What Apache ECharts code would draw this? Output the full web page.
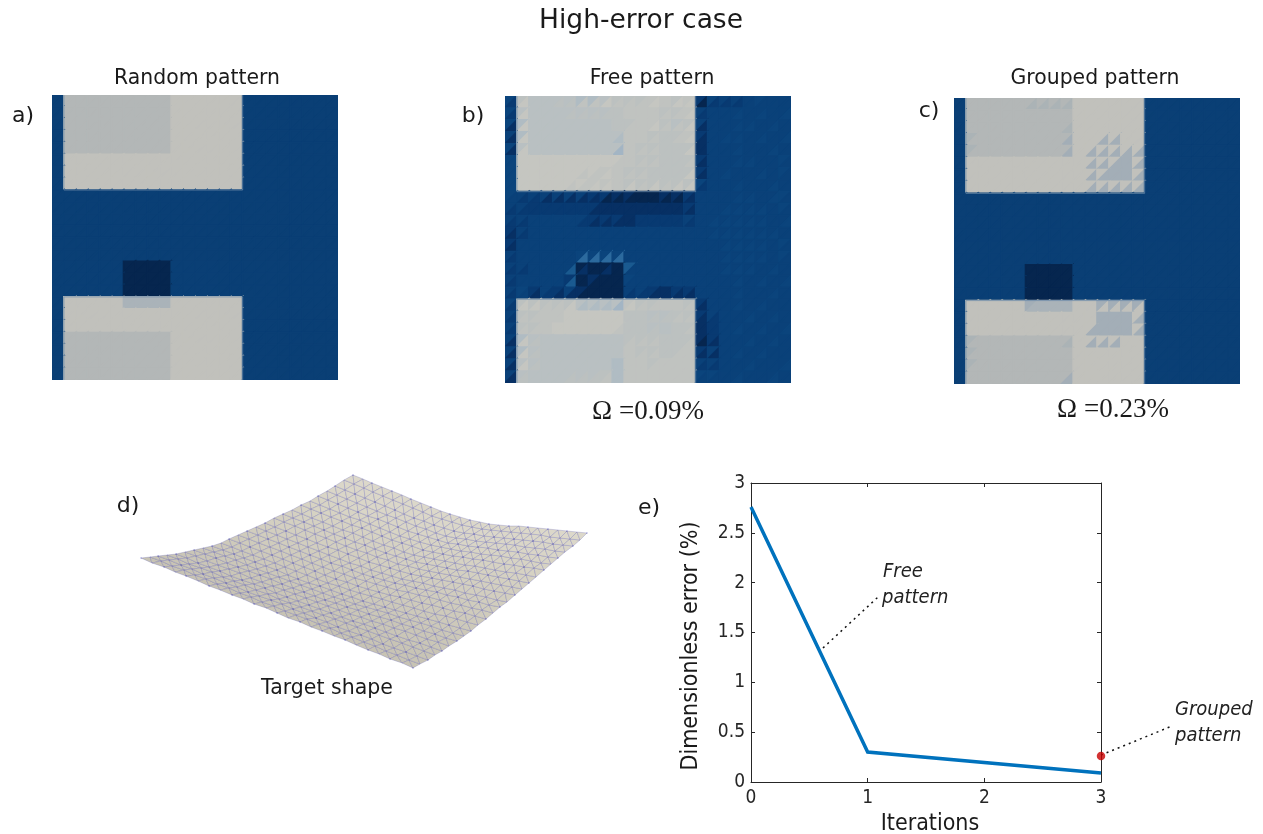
<!DOCTYPE html>
<html><head><meta charset="utf-8">
<style>html,body{margin:0;padding:0;background:#fff}#c{width:1263px;height:834px}</style>
<script src="https://cdn.jsdelivr.net/npm/echarts@6/dist/echarts.min.js"></script>
</head><body><div id="c"></div>
<script>
// Panel e: line values
const iterations = [0, 1, 3];
const errors = [2.76, 0.30, 0.09];
const groupedPoint = [3, 0.26];
const freeLeader = [[0.617, 1.345], [1.089, 1.856]];
const groupedLeader = [[3, 0.27], [3.609, 0.562]];
const xTicks = ['0', '1', '2', '3'];

// Panels a-c: colour code per mesh cell (24 x 24); two characters = upper-left, lower-right triangle
const panelARows = [
 'nqqqqqqqqqppppppnnnnnnnn','nqqqqqqqqqppppppnnnnnnnn','nqqqqqqqqqppppppnnnnnnnn','nqqqqqqqqqppppppnnnnnnnn','nqqqqqqqqqppppppnnnnnnnn',
 'npppppppppppppppnnnnnnnn','npppppppppppppppnnnnnnnn','npppppppppppppppnnnnnnnn',
 'nnnnnnnnnnnnnnnnnnnnnnnn','nnnnnnnnnnnnnnnnnnnnnnnn','nnnnnnnnnnnnnnnnnnnnnnnn','nnnnnnnnnnnnnnnnnnnnnnnn','nnnnnnnnnnnnnnnnnnnnnnnn','nnnnnnnnnnnnnnnnnnnnnnnn',
 'nnnnnnmmmmnnnnnnnnnnnnnn','nnnnnnmmmmnnnnnnnnnnnnnn','nnnnnnmmmmnnnnnnnnnnnnnn',
 'npppppssssppppppnnnnnnnn','npppppppppppppppnnnnnnnn','npppppppppppppppnnnnnnnn',
 'nqqqqqqqqqppppppnnnnnnnn','nqqqqqqqqqppppppnnnnnnnn','nqqqqqqqqqppppppnnnnnnnn','nqqqqqqqqqppppppnnnnnnnn'];
const panelBRows = [
 '42 ca dd dd dc dc eb eb da cb cb cb ba bb ca ba 20 42 32 32 33 43 33 33',
 '42 da dd dd dd dc dc dc dc cc bb bb bb cb cb ba 32 33 33 34 33 34 33 34',
 '41 ea dd dd dd dd dd dd dd cc cb bb ba cb db ca 31 33 33 34 34 33 34 33',
 '31 ea dd dd dd dd dd dd dd de bb bb cb cc cb ba 21 33 34 34 33 34 33 34',
 '41 da dd dd dd dd dd dd dd df bb cb cb cc cc ca 11 33 33 34 33 33 34 33',
 '44 aa aa aa aa aa aa aa aa ab bb cb cb cc cc cb 21 33 33 34 34 33 33 43',
 '44 aa aa aa aa aa ab ab ba bb cb cb cc cc cc ca 21 33 34 33 33 34 33 43',
 '44 aa aa aa aa ab ab ba ba bb ca cb ca cb ca ca 42 33 33 34 33 33 34 33',
 '43 32 32 31 31 31 31 21 20 10 10 00 00 10 10 21 33 33 33 34 34 33 34 43',
 '32 32 22 22 22 22 22 21 11 11 11 11 11 11 11 21 33 33 34 34 34 34 33 43',
 '32 32 33 33 33 33 32 21 21 21 11 22 22 22 22 32 33 34 34 34 34 34 33 34',
 '21 32 33 33 33 33 33 33 33 33 33 33 33 33 33 33 33 34 34 34 34 34 34 33',
 '21 33 33 33 33 33 33 33 33 33 33 33 33 33 33 33 33 33 34 34 34 34 33 43',
 '32 33 33 33 33 33 46 46 46 46 33 33 33 33 33 33 33 33 34 34 34 34 33 43',
 '32 32 33 33 33 35 01 00 01 00 53 33 33 33 33 33 33 33 34 34 34 33 34 33',
 '32 33 33 33 33 25 00 10 00 00 43 33 33 33 33 33 33 33 33 34 33 34 33 34',
 '32 43 21 32 21 31 10 00 00 00 32 32 21 11 21 21 33 33 33 34 33 33 34 33',
 '42 ca ca cb cb ca de de de df ba cb cb bb bb cb 21 33 33 34 33 34 33 33',
 '32 cb cb bb bb aa aa aa aa aa cc cc dc dc cb cb 21 32 33 33 34 33 34 33',
 '32 cb cb bb aa aa aa aa aa ab cc cc dc dd cc cb 11 22 33 34 33 34 33 34',
 '31 ea dc dd dd dd dd dd dd dd cb cb cb cc cc cb 10 21 33 33 34 33 34 33',
 '31 ea dc dd dd dd dd dd dd dd bb cb cb cc cb bb 21 31 33 34 33 34 33 33',
 '31 da dc dd dd dd dd dd dd ee bb bb cb bb bb bb 32 32 33 33 34 33 33 34',
 '31 dc dd dd dd dc dc dc cb ee bb bb bb bb bb bb 43 43 33 34 33 33 34 33'];
const panelCRows = [
 'n q q q q q qt qt qt qt p p p p p p n n n n n n n n',
 'n q q q q q q q q q p p p p p p n n n n n n n n',
 'n q q q q q q q q qt p p p p p p n n n n n n n n',
 'n tq q q q q q q q qr p p pr pr p p n n n n n n n n',
 'n tq q q q q q q q qr p pr pr pr pr pr n n n n n n n n',
 'n p p p p p p p p p p pr pr pr rr pr n n n n n n n n',
 'n p p p p p p p p p p pr pr rr rr pr n n n n n n n n',
 'n p p p p p p p p p p pr pr pr pr pr n n n n n n n n',
 'n n n n n n n n n n n n n n n n n n n n n n n n',
 'n n n n n n n n n n n n n n n n n n n n n n n n',
 'n n n n n n n n n n n n n n n n n n n n n n n n',
 'n n n n n n n n n n n n n n n n n n n n n n n n',
 'n n n n n n n n n n n n n n n n n n n n n n n n',
 'n n n n n n n n n n n n n n n n n n n n n n n n',
 'n n n n n n m m m m n n n n n n n n n n n n n n',
 'n n n n n n m m m m n n n n n n n n n n n n n n',
 'n n n n n n m m m m n n n n n n n n n n n n n n',
 'n p p p p p rs s s s p p rp rp rp rp n n n n n n n n',
 'n p p p p p p p p p p p rr rr rr pr n n n n n n n n',
 'n p p p p p p p p p p pr rr rr rr pr n n n n n n n n',
 'n tq q q q q q q q qt p pr pr pr p p n n n n n n n n',
 'n tq q q q q q q q q p p p p p p n n n n n n n n',
 'n tq q q q q q q q q p p p p p p n n n n n n n n',
 'n q q q q q q q q qr p p p p p p n n n n n n n n'];
// Plate outlines in mesh cells: col0,row0,col1,row1 (running past the panel, which clips them)
const plateRects = [[1, -1, 16, 8], [1, 17, 16, 25]];
const colorCodes = {
 n:'#0a3f75', m:'#06264f', p:'#c1c1bc', q:'#b3b7b7', r:'#a3aeb7', s:'#aab3b9', t:'#abb3b6',
 0:'#06264f', 1:'#073064', 2:'#083a72', 3:'#0a4179', 4:'#0b447c', 5:'#1a5a90', 6:'#2c6a9e',
 a:'#c5c6c1', b:'#c0c3c0', c:'#bcc1c0', d:'#b9c0c2', e:'#b0bcc3', f:'#a3b5c4'
};

// Panel d: surface mesh nodes (25 x 25), picture pixels
const meshX = [
[141,152,164,175,186,198,209,220,232,243,254,266,277,288,300,311,322,334,345,356,368,379,390,402,413],
[150,161,172,184,195,206,217,229,240,251,262,274,285,296,307,319,330,341,352,364,375,386,397,409,420],
[158,169,181,192,203,214,226,237,248,259,271,282,293,304,316,327,338,349,361,372,383,394,406,417,428],
[167,178,189,201,212,223,234,245,256,268,279,290,301,312,323,335,346,357,368,379,390,402,413,424,435],
[176,187,198,209,220,231,242,254,265,276,287,298,309,320,331,342,353,364,375,386,397,409,420,431,442],
[185,196,207,218,229,240,251,262,273,284,295,306,317,328,339,350,361,372,383,394,405,416,427,438,449],
[194,205,216,227,238,249,260,271,282,293,304,315,325,336,347,358,369,380,391,402,413,424,435,446,457],
[203,214,225,236,247,257,268,279,290,301,312,323,334,344,355,366,377,388,399,410,421,431,442,453,464],
[212,223,234,244,255,266,277,288,298,309,320,331,342,352,363,374,385,395,406,417,428,439,449,460,471],
[221,232,242,253,264,275,285,296,307,317,328,339,350,360,371,382,392,403,414,424,435,446,457,467,478],
[229,240,250,261,272,283,293,304,315,325,336,347,358,368,379,390,400,411,422,432,443,454,465,475,486],
[238,249,259,270,281,291,302,312,323,334,344,355,366,376,387,397,408,419,429,440,451,461,472,482,493],
[247,258,268,279,289,300,310,321,331,342,352,363,373,384,395,405,416,426,437,447,458,468,479,489,500],
[256,266,277,287,298,308,319,329,340,350,361,371,382,392,402,413,423,434,444,455,465,476,486,497,507],
[265,275,286,296,307,317,328,338,348,359,369,380,390,400,411,421,432,442,453,463,473,484,494,505,515],
[274,284,295,305,315,326,336,346,357,367,377,388,398,408,419,429,439,450,460,470,481,491,501,512,522],
[283,293,304,314,324,334,345,355,365,375,386,396,406,416,427,437,447,457,468,478,488,498,509,519,529],
[292,302,312,323,333,343,353,363,373,384,394,404,414,424,434,445,455,465,475,485,495,506,516,526,536],
[301,311,321,331,342,352,362,372,382,392,402,412,423,433,443,453,463,473,483,493,504,514,524,534,544],
[310,320,330,340,350,360,370,380,390,400,410,420,431,441,451,461,471,481,491,501,511,521,531,541,551],
[318,328,338,348,358,368,378,388,398,408,418,428,438,448,458,468,478,488,498,508,518,528,538,548,558],
[327,337,347,357,367,377,387,396,406,416,426,436,446,456,466,476,486,496,506,515,525,535,545,555,565],
[335,345,355,365,375,385,395,404,414,424,434,444,454,464,474,484,494,504,514,523,533,543,553,563,573],
[344,354,364,373,383,393,403,413,423,432,442,452,462,472,482,491,501,511,521,531,541,550,560,570,580],
[353,363,372,382,392,402,411,421,431,441,450,460,470,480,489,499,509,519,528,538,548,558,567,577,587]];
const meshY = [
[558,563,567,572,576,581,586,590,595,599,604,608,613,618,622,627,631,636,640,645,650,654,659,663,668],
[557,561,566,570,575,579,584,588,593,597,602,606,611,615,619,624,628,633,637,642,646,651,655,660,664],
[556,560,565,569,574,578,583,587,592,596,600,604,609,613,618,622,627,631,635,639,644,648,652,656,660],
[555,559,564,568,572,577,581,585,590,594,599,603,607,611,615,619,623,627,631,635,639,643,647,651,655],
[554,558,563,567,571,576,580,584,588,593,597,601,605,609,613,617,621,624,628,632,636,640,643,647,651],
[552,556,561,565,569,573,578,582,586,590,594,598,602,606,610,614,617,621,624,628,631,635,639,642,646],
[550,554,558,563,567,571,575,579,584,588,592,596,600,603,607,610,614,617,620,624,627,631,634,638,641],
[548,552,556,560,565,569,573,577,581,585,589,593,597,600,604,607,610,613,617,620,623,626,630,633,636],
[546,550,554,558,562,566,570,575,579,583,586,590,594,597,601,604,607,610,613,616,619,622,625,628,631],
[543,547,551,555,559,563,567,571,575,579,583,586,590,593,596,599,602,605,608,611,614,616,619,622,625],
[539,543,547,551,555,559,563,567,571,575,579,582,586,589,592,595,597,600,603,605,608,611,613,616,619],
[535,539,543,547,551,555,559,563,567,571,574,578,581,584,587,590,592,595,597,600,603,605,608,610,613],
[531,535,539,543,547,551,555,559,563,566,570,574,577,580,583,585,588,590,592,595,597,600,602,605,607],
[527,531,535,539,543,547,551,555,559,563,566,570,573,576,579,581,583,586,588,590,593,595,597,600,602],
[523,527,531,535,539,543,547,550,554,558,562,565,568,571,574,576,578,580,582,584,586,589,591,593,595],
[518,522,526,530,534,538,542,546,550,553,557,560,564,566,569,571,573,575,577,579,581,583,585,587,589],
[514,518,522,526,530,534,538,542,545,549,553,556,559,562,564,566,568,570,571,573,575,577,579,581,583],
[510,514,518,522,526,530,533,537,541,545,548,552,555,557,559,561,563,565,566,568,570,572,573,575,577],
[505,509,513,517,521,525,528,532,536,540,543,546,550,552,554,556,557,559,560,562,564,565,567,568,570],
[501,505,509,513,517,520,524,528,532,536,539,542,545,547,549,551,552,554,555,556,558,559,561,563,564],
[496,500,504,508,512,516,519,523,527,531,534,537,540,543,544,546,547,548,550,551,552,554,555,557,558],
[491,495,499,503,507,511,515,518,522,526,529,533,536,538,539,541,542,543,544,545,547,548,549,551,552],
[486,490,494,498,502,506,510,514,518,521,525,528,531,533,534,536,537,538,539,540,541,542,544,545,546],
[480,484,488,492,496,500,504,508,512,516,519,522,525,527,529,530,531,532,533,534,535,537,538,539,540],
[475,479,483,487,491,495,499,503,507,511,514,517,520,522,524,525,526,526,527,528,529,530,531,532,533]];
const meshShade = ['#c7c3b4','#c8c4b5','#c8c4b5','#c9c5b6','#cac6b7','#cac6b7','#cbc7b8','#ccc8b9','#cdc9ba','#cecabb','#cfcbbc','#d0ccbd','#d1cdbe','#d2cebf','#d3cfc0','#d4d0c1','#d5d1c2','#d6d2c3','#d7d3c4','#d8d4c5','#d9d5c7','#dad6c8','#dbd7c9','#dcd8ca','#dcd8ca'];

// ------- build -------
const SANS = '"DejaVu Sans"';
const COND = '"DejaVu Sans Condensed","Liberation Sans Narrow","DejaVu Sans"';
function tokens(r){ return r.indexOf(' ')>=0 ? r.split(' ') : r.split(''); }
function panelItems(rows){
  const out=[];
  rows.forEach((r,row)=>tokens(r).forEach((t,col)=>{
    out.push([col,row,0,t[0]]);
    out.push([col,row,1,t[t.length-1]]);
  }));
  return out;
}
function panelSeries(rows,idx){
  const items=panelItems(rows);
  return {
    type:'custom',xAxisIndex:idx,yAxisIndex:idx,silent:true,clip:true,animation:false,
    data:items.map(d=>[d[0],d[1],d[2]]),
    renderItem(params,api){
      const d=items[params.dataIndex], c=d[0], r=d[1];
      const A=api.coord([c,r]),B=api.coord([c+1,r]),C=api.coord([c+1,r+1]),D=api.coord([c,r+1]);
      const pts=d[2]===0?[A,B,D]:[B,C,D];
      const col=colorCodes[d[3]];
      return {type:'polygon',shape:{points:pts},style:{fill:col,stroke:col,lineWidth:1.6}};
    }
  };
}
function rectSeries(idx){
  return {
    type:'custom',xAxisIndex:idx,yAxisIndex:idx,silent:true,clip:true,animation:false,z:3,
    data:plateRects,
    renderItem(params,api){
      const a=api.coord([api.value(0),api.value(1)]),b=api.coord([api.value(2),api.value(3)]);
      return {type:'rect',shape:{x:a[0],y:a[1],width:b[0]-a[0],height:b[1]-a[1]},
        style:{fill:'none',stroke:'rgba(110,140,170,0.75)',lineWidth:1}};
    }
  };
}
const meshCells=[];
for(let v=0;v<24;v++)for(let u=0;u<24;u++)meshCells.push([u,v]);
const meshNodes=[];
for(let v=0;v<25;v+=2)for(let u=0;u<25;u+=2)meshNodes.push([meshX[v][u],meshY[v][u]]);
const meshSeries={
  type:'custom',xAxisIndex:3,yAxisIndex:3,silent:true,clip:false,animation:false,
  data:meshCells,
  renderItem(params,api){
    const u=api.value(0),v=api.value(1);
    const p=(i,j)=>api.coord([meshX[j][i],meshY[j][i]]);
    const A=p(u,v),B=p(u+1,v),C=p(u+1,v+1),D=p(u,v+1);
    const st={fill:meshShade[v],stroke:'rgba(50,50,165,0.33)',lineWidth:0.6};
    return {type:'group',children:[
      {type:'polygon',shape:{points:[A,B,D]},style:st},
      {type:'polygon',shape:{points:[B,C,D]},style:st}
    ]};
  }
};

function hiddenAxis(min,max,inverse,gridIndex){
  return {type:'value',show:false,min,max,inverse,gridIndex};
}
const ink='#262626';
const text=(t,x,y,size,opt)=>Object.assign({type:'text',silent:true,z:50,style:Object.assign({
  text:t,x,y,fill:'#1a1a1a',font:size+'px '+SANS,textAlign:'center',textVerticalAlign:'middle'},opt||{})});
const it=(t,x,y)=>text(t,x,y,20,{font:'italic 20px '+COND,textAlign:'left',fill:'#222'});

const option={
  backgroundColor:'#fff',animation:false,
  grid:[
    {left:52,top:95,width:286,height:285},
    {left:505,top:96,width:286,height:287},
    {left:954,top:98,width:286,height:286},
    {left:130,top:465,width:470,height:210},
    {left:751,top:483,width:350,height:299,show:false},
    {left:751,top:483,width:431.67,height:299,show:false}
  ],
  xAxis:[
    hiddenAxis(0,24,false,0),hiddenAxis(0,24,false,1),hiddenAxis(0,24,false,2),hiddenAxis(130,600,false,3),
    {type:'value',gridIndex:4,min:0,max:3,interval:1,position:'bottom',
     axisLine:{onZero:false,lineStyle:{color:ink,width:1}},axisTick:{inside:true,length:4,lineStyle:{color:ink}},
     axisLabel:{color:ink,fontFamily:COND,fontSize:19,margin:7,formatter:v=>xTicks[v]},splitLine:{show:false}},
    {type:'value',gridIndex:4,min:0,max:3,interval:1,position:'top',
     axisLine:{show:true,onZero:false,lineStyle:{color:ink,width:1}},axisTick:{show:true,inside:true,length:4,lineStyle:{color:ink}},
     axisLabel:{show:false},splitLine:{show:false}},
    hiddenAxis(0,3.7,false,5)
  ],
  yAxis:[
    hiddenAxis(0,24,true,0),hiddenAxis(0,24,true,1),hiddenAxis(0,24,true,2),hiddenAxis(465,675,true,3),
    {type:'value',gridIndex:4,min:0,max:3,interval:0.5,position:'left',
     axisLine:{onZero:false,lineStyle:{color:ink,width:1}},axisTick:{inside:true,length:4,lineStyle:{color:ink}},
     axisLabel:{color:ink,fontFamily:COND,fontSize:19,margin:6},splitLine:{show:false}},
    {type:'value',gridIndex:4,min:0,max:3,interval:0.5,position:'right',
     axisLine:{show:true,onZero:false,lineStyle:{color:ink,width:1}},axisTick:{show:true,inside:true,length:4,lineStyle:{color:ink}},
     axisLabel:{show:false},splitLine:{show:false}},
    hiddenAxis(0,3,false,5)
  ],
  series:[
    panelSeries(panelARows,0),rectSeries(0),
    panelSeries(panelBRows,1),rectSeries(1),
    panelSeries(panelCRows,2),rectSeries(2),
    meshSeries,
    {type:'scatter',xAxisIndex:3,yAxisIndex:3,data:meshNodes,symbol:'circle',symbolSize:1.5,silent:true,clip:false,
     itemStyle:{color:'rgba(40,40,170,0.5)'},z:3},
    {type:'line',xAxisIndex:4,yAxisIndex:4,data:iterations.map((x,i)=>[x,errors[i]]),symbol:'none',clip:false,
     lineStyle:{color:'#0072bd',width:3.5,cap:'butt',join:'miter'},z:5},
    {type:'line',xAxisIndex:6,yAxisIndex:6,data:freeLeader,symbol:'none',clip:false,silent:true,
     lineStyle:{color:'#111',width:1.5,type:[2,4]},z:4},
    {type:'line',xAxisIndex:6,yAxisIndex:6,data:groupedLeader,symbol:'none',clip:false,silent:true,
     lineStyle:{color:'#111',width:1.5,type:[2,4]},z:4},
    {type:'scatter',xAxisIndex:4,yAxisIndex:4,data:[groupedPoint],symbol:'circle',symbolSize:8.5,clip:false,
     itemStyle:{color:'#c80000'},z:6}
  ],
  graphic:[
    text('High-error case',641,21,26.5),
    text('Random pattern',197,79,20.4),
    text('Free pattern',652,79,20.4),
    text('Grouped pattern',1095,79,20.4),
    text('a)',23,116,22),text('b)',473,116,22),text('c)',929,111,22),text('d)',128,506,22),text('e)',649,508,22),
    text('Ω =0.09%',648,412,27,{font:'27px "Liberation Serif"'}),
    text('Ω =0.23%',1113,410,27,{font:'27px "Liberation Serif"'}),
    text('Target shape',327,689,20.5),
    text('Iterations',930,824,23,{font:'23px '+COND}),
    {type:'text',silent:true,z:50,x:691,y:646,rotation:Math.PI/2,style:{text:'Dimensionless error (%)',x:0,y:0,
      fill:'#1a1a1a',font:'23px '+COND,textAlign:'center',textVerticalAlign:'middle'}},
    it('Free',883,572),it('pattern',882,598),it('Grouped',1175,710),it('pattern',1175,736)
  ]
};
const chart=echarts.init(document.getElementById('c'),null,{renderer:'canvas',width:1263,height:834});
chart.setOption(option);
</script></body></html>
